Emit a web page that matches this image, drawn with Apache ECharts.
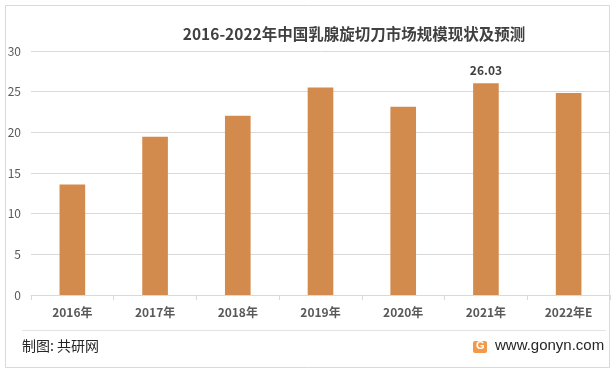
<!DOCTYPE html>
<html>
<head>
<meta charset="utf-8">
<script src="https://cdn.jsdelivr.net/npm/echarts@6/dist/echarts.min.js"></script>
<style>
  html, body { margin: 0; padding: 0; background: #fff; }
  #chart { width: 614px; height: 376px; }
</style>
</head>
<body>
<div id="chart"></div>
<script>
var years = ['2016年', '2017年', '2018年', '2019年', '2020年', '2021年', '2022年E'];
var marketSize = [13.6, 19.45, 22.05, 25.5, 23.15, 26.03, 24.85];
var yTicks = { min: 0, max: 30, step: 5 };
var labelIndex = 5; // only 2021 shows its value

var chart = echarts.init(document.getElementById('chart'));
var font = '"Noto Sans CJK SC", "Noto Sans", sans-serif';

var option = {
  animation: false,
  backgroundColor: '#fff',
  title: {
    text: '2016-2022年中国乳腺旋切刀市场规模现状及预测',
    left: 349,
    textAlign: 'center',
    top: 21,
    textStyle: { fontFamily: font, fontSize: 15.5, fontWeight: 'bold', color: '#404040' }
  },
  grid: { left: 31, right: 4, top: 51, bottom: 81 },
  xAxis: {
    type: 'category',
    data: years,
    axisLine: { lineStyle: { color: '#d9d9d9' } },
    axisTick: { show: true, lineStyle: { color: '#d9d9d9' } },
    axisLabel: { color: '#595959', fontFamily: font, fontSize: 12, fontWeight: 'bold', margin: 11 }
  },
  yAxis: {
    type: 'value',
    min: yTicks.min,
    max: yTicks.max,
    interval: yTicks.step,
    axisLine: { show: false },
    axisTick: { show: false },
    splitLine: { lineStyle: { color: '#d9d9d9' } },
    axisLabel: { color: '#595959', fontFamily: font, fontSize: 12, margin: 10 }
  },
  series: [{
    type: 'bar',
    barWidth: '31%',
    itemStyle: { color: '#d38b4d' },
    data: marketSize.map(function (v, i) {
      return {
        value: v,
        label: {
          show: i === labelIndex,
          position: 'top',
          distance: 7,
          color: '#404040',
          fontFamily: font,
          fontSize: 12,
          fontWeight: 'bold',
          formatter: function (p) { return p.value.toFixed(2); }
        }
      };
    })
  }],
  graphic: [
    {
      type: 'rect', silent: true,
      shape: { x: 5.5, y: 5.5, width: 604, height: 362 },
      style: { fill: 'none', stroke: '#d9d9d9', lineWidth: 1 }
    },
    {
      type: 'line', silent: true,
      shape: { x1: 22, y1: 330.5, x2: 606, y2: 330.5 },
      style: { stroke: '#e3e3e3', lineWidth: 1 }
    },
    {
      type: 'text', left: 22, top: 339,
      style: { text: '制图: 共研网', font: '14px ' + font, fill: '#262626' }
    },
    {
      type: 'rect', silent: true,
      shape: { x: 473, y: 341, width: 14, height: 12, r: 2 },
      style: { fill: '#f39a4a' }
    },
    {
      type: 'text', left: 476, top: 340,
      style: { text: 'G', font: 'bold 11px "Liberation Sans", sans-serif', fill: '#fff' }
    },
    {
      type: 'text', left: 495, top: 338,
      style: { text: 'www.gonyn.com', font: '15px "Liberation Sans", Arial, sans-serif', fill: '#262626' }
    }
  ]
};
chart.setOption(option);
</script>
</body>
</html>
